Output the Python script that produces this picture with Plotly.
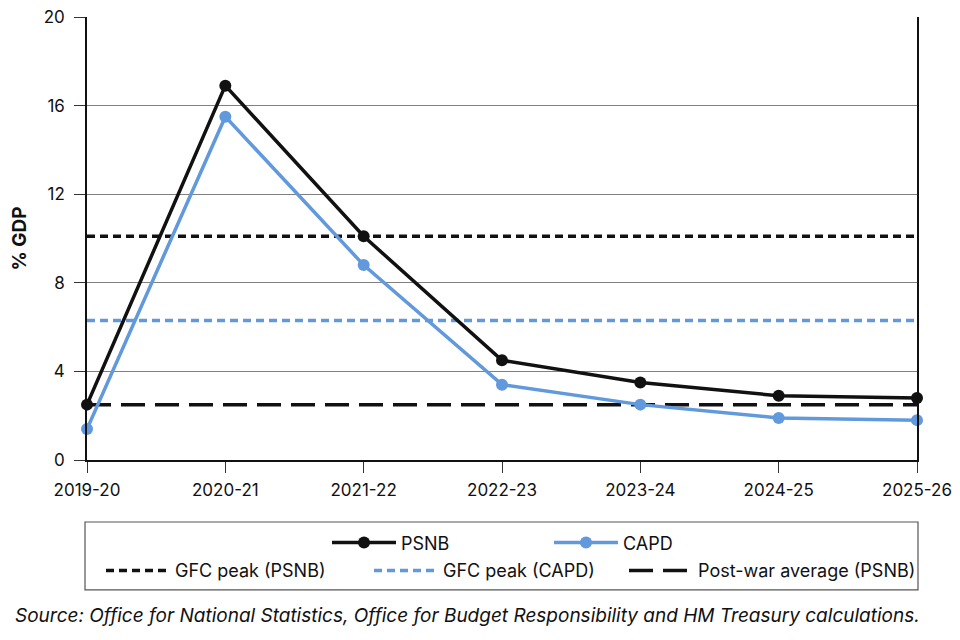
import plotly.graph_objects as go

years = ["2019-20", "2020-21", "2021-22", "2022-23", "2023-24", "2024-25", "2025-26"]
psnb = [2.5, 16.9, 10.1, 4.5, 3.5, 2.9, 2.8]
capd = [1.4, 15.5, 8.8, 3.4, 2.5, 1.9, 1.8]
gfc_psnb = 10.1
gfc_capd = 6.3
postwar_avg = 2.5
y_ticks = [0, 4, 8, 12, 16, 20]

BLACK = "#111111"
BLUE = "#6199DC"
FONT = "Inter"
FS = 17
LFS = 18

PLOT_L = 87.0   # page px of plot left edge
PLOT_W = 830.0


def lx(symbol_start_px):
    return (symbol_start_px - 5 - PLOT_L) / PLOT_W


fig = go.Figure()
fig.add_trace(go.Scatter(x=years, y=[gfc_psnb] * len(years), mode="lines", name="GFC peak (PSNB)",
                         line=dict(color=BLACK, width=3.5, dash="8px,5px"), legend="legend3"))
fig.add_trace(go.Scatter(x=years, y=[gfc_capd] * len(years), mode="lines", name="GFC peak (CAPD)",
                         line=dict(color=BLUE, width=3.5, dash="8px,5px"), legend="legend4"))
fig.add_trace(go.Scatter(x=years, y=[postwar_avg] * len(years), mode="lines", name="Post-war average (PSNB)",
                         line=dict(color=BLACK, width=3.5, dash="24px,10px"), legend="legend5"))
fig.add_trace(go.Scatter(x=years, y=psnb, mode="lines+markers", name="PSNB",
                         line=dict(color=BLACK, width=3.5), marker=dict(size=12, color=BLACK),
                         cliponaxis=False, legend="legend"))
fig.add_trace(go.Scatter(x=years, y=capd, mode="lines+markers", name="CAPD",
                         line=dict(color=BLUE, width=3.5), marker=dict(size=12, color=BLUE),
                         cliponaxis=False, legend="legend2"))


def leg(xpx, y):
    return dict(orientation="h", x=lx(xpx), y=y, xanchor="left", yanchor="middle",
                itemwidth=64, font=dict(size=LFS), bgcolor="rgba(0,0,0,0)")


ROW1 = -0.187
ROW2 = -0.250

# page has an 8px body margin: figure is 952x632 placed at (8,8)
fig.update_layout(
    width=952, height=632,
    margin=dict(l=79, r=43, t=9, b=180),
    plot_bgcolor="white", paper_bgcolor="white",
    font=dict(family=FONT, size=FS, color="#111111"),
    showlegend=True,
    legend=leg(332, ROW1),
    legend2=leg(554, ROW1),
    legend3=leg(106, ROW2),
    legend4=leg(374, ROW2),
    legend5=leg(629, ROW2),
    xaxis=dict(type="category", range=[0, 6], showgrid=False, showline=True, linecolor=BLACK,
               linewidth=1.5, ticks="outside", ticklen=11, tickcolor="#333", tickwidth=1.2,
               ticklabelstandoff=3, tickfont=dict(size=FS), zeroline=False, automargin=False,
               ticklabeloverflow="allow"),
    yaxis=dict(range=[0, 20], tickvals=y_ticks, showgrid=True, gridcolor="#808080",
               gridwidth=1, showline=True, linecolor=BLACK, linewidth=1.5, mirror=True,
               ticks="outside", ticklen=11, tickcolor="#333", tickwidth=1.2,
               ticklabelstandoff=6, tickfont=dict(size=FS), zeroline=False, automargin=False,
               ticklabeloverflow="allow",
               title=dict(text="<b>% GDP</b>", font=dict(size=19), standoff=12)),
    shapes=[dict(type="rect", xref="paper", yref="paper", x0=-0.0024, x1=1.0012,
                 y0=-0.14, y1=-0.293, line=dict(color="#555555", width=1.2), fillcolor="rgba(0,0,0,0)")],
    annotations=[dict(text="<i>Source: Office for National Statistics, Office for Budget Responsibility and HM Treasury calculations.</i>",
                      xref="paper", yref="paper", x=0.459, y=-0.352, xanchor="center", yanchor="middle",
                      showarrow=False, font=dict(size=19, color="#111111"))],
)

fig.write_html("out.html")
